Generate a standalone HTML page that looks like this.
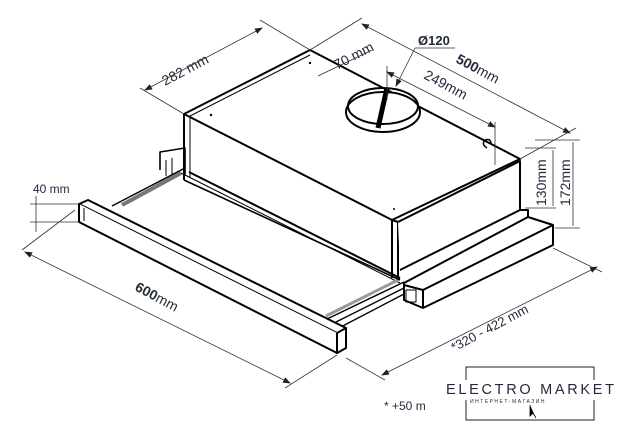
<!DOCTYPE html>
<html><head><meta charset="utf-8"><style>
html,body{margin:0;padding:0;background:#fff;}
svg{display:block;}
text{font-family:"Liberation Sans",Arial,sans-serif;fill:#222a3a;}
</style></head><body>
<svg width="628" height="434" viewBox="0 0 628 434" xmlns="http://www.w3.org/2000/svg">
<defs>
<marker id="a" markerWidth="8" markerHeight="6" refX="7" refY="3" orient="auto" markerUnits="userSpaceOnUse"><path d="M0,0 L8,3 L0,6z" fill="#222"/></marker>
<marker id="b" markerWidth="8" markerHeight="6" refX="1" refY="3" orient="auto" markerUnits="userSpaceOnUse"><path d="M8,0 L0,3 L8,6z" fill="#222"/></marker>
</defs>
<g fill="none" stroke="#000" stroke-width="2" stroke-linejoin="round">
<path d="M160,170 L160,152 L185,148 L185,175" stroke-width="1.6"/>
<path d="M166,160 L166,176 M172,158 L172,174" stroke-width="1"/>
<path d="M520,210 L528,210 L528,217 L553,225 L553,245 L423,308 L404,300 L404,283" fill="#fff"/>
<path d="M528,217 L404,283" />
<path d="M553,225 L423,290 L423,308"/>
<path d="M404,285 L423,290"/>
<rect x="406" y="290" width="10" height="12" stroke-width="1"/>
<path d="M189,172 L400,278" />
<path d="M181,173 L400,283" stroke-width="1"/>
<path d="M122,205 L181,173" stroke="#777" stroke-width="4"/>
<path d="M112,206 L185,168" stroke-width="1.5"/>
<path d="M325,320 L404,282 M330,325 L404,288 M335,330 L404,294" stroke-width="1.4"/>
<path d="M326,316 L398,280" stroke="#999" stroke-width="3"/>
<path d="M79,204 L88,200 L346,328 L337,333 Z" fill="#fff"/>
<path d="M79,204 L79,222 L337,353 L337,333" fill="#fff"/>
<path d="M337,353 L346,348 L346,328"/>
<path d="M84,208 L84,221" stroke-width="1"/>
<path d="M184,114 L310,50 L520,159 L392,220 Z" fill="#fff"/>
<path d="M184,114 L184,180 M392,220 L398,222 L398,278 L400,278 M392,220 L392,278" />
<path d="M398,222 L520,161 L520,210 L400,270" fill="#fff"/>
<path d="M190,116 L190,178" stroke-width="1"/>
<path d="M190,116 L310,55" stroke-width="1"/>
<path d="M184,180 L400,280" stroke-width="1.6"/>
<ellipse cx="383" cy="112" rx="37" ry="20" fill="#fff"/>
<ellipse cx="383" cy="106" rx="35" ry="18"/>
<path d="M378,128 L387,88" stroke-width="5"/>
<path d="M487,148 q-6,-4 -2,-8 q6,-2 6,4" stroke-width="1.5"/>
<circle cx="211" cy="115" r="1.2" fill="#000" stroke="none"/>
<circle cx="310" cy="63" r="1.2" fill="#000" stroke="none"/>
<circle cx="394" cy="209" r="1" fill="#000" stroke="none"/>
</g>
<g fill="none" stroke="#333" stroke-width="0.8">
<path d="M184,114 L140,88 M310,50 L260,20 M310,50 L362,18 M520,159 L576,128"/>
<path d="M145,90 L262,28" marker-start="url(#b)" marker-end="url(#a)"/>
<path d="M362,24 L570,133" marker-start="url(#b)" marker-end="url(#a)"/>
<path d="M318,76 L372,50"/>
<path d="M387,66 L387,100 M495,122 L495,165"/>
<path d="M387,72 L495,127" marker-start="url(#b)" marker-end="url(#a)"/>
<path d="M415,48 L455,48"/>
<path d="M415,48 L396,86" marker-end="url(#a)"/>
<path d="M525,148 L556,148 M525,208 L556,208 M553,150 L553,206"/>
<path d="M535,140 L580,140 M555,228 L580,228 M573,142 L573,226"/>
<path d="M30,204 L78,204 M30,222 L78,222 M36,196 L36,232"/>
<path d="M75,210 L22,250 M337,355 L285,388"/>
<path d="M25,252 L290,383" marker-start="url(#b)" marker-end="url(#a)"/>
<path d="M346,358 L385,380 M553,248 L602,272"/>
<path d="M382,375 L597,267" marker-start="url(#b)" marker-end="url(#a)"/>
</g>
<text x="0" y="0" font-size="14" transform="translate(165,86) rotate(-28)">282 mm</text>
<text x="0" y="0" font-size="14" transform="translate(337,70) rotate(-28)">70 mm</text>
<text x="0" y="0" font-size="14" font-weight="bold" transform="translate(455,62) rotate(28)">500<tspan font-weight="normal">mm</tspan></text>
<text x="0" y="0" font-size="14" transform="translate(423,78) rotate(28)">249mm</text>
<text x="418" y="45" font-size="13" font-weight="bold">Ø120</text>
<text x="0" y="0" font-size="14" transform="translate(546,206) rotate(-90)">130mm</text>
<text x="0" y="0" font-size="14" transform="translate(570,206) rotate(-90)">172mm</text>
<text x="33" y="193" font-size="12">40 mm</text>
<text x="0" y="0" font-size="14" font-weight="bold" transform="translate(134,290) rotate(28)">600<tspan font-weight="normal">mm</tspan></text>
<text x="0" y="0" font-size="13" transform="translate(454,352) rotate(-28)">*320 - 422 mm</text>
<text x="384" y="410" font-size="12">* +50 m</text>
<g fill="none" stroke="#222" stroke-width="1">
<path d="M466,380 L466,367 L594,367 L594,380 M466,400 L466,420 L594,420 L594,400"/>
</g>
<text x="446" y="394" font-size="14.5" letter-spacing="2.7">ELECTRO MARKET</text>
<text x="470" y="403" font-size="5" letter-spacing="1.5">ИНТЕРНЕТ-МАГАЗИН</text>
<path d="M530,405 L530,416 L533,413 L536,418" fill="#000" stroke="#000" stroke-width="0.8"/>
</svg>
</body></html>
